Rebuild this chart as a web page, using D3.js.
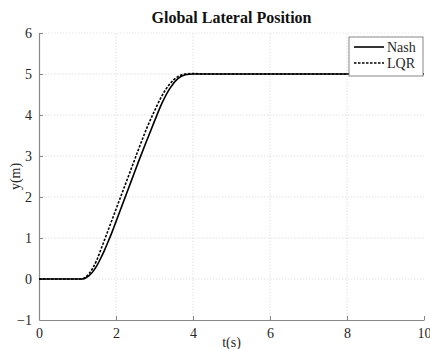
<!DOCTYPE html>
<html><head><meta charset="utf-8">
<script src="https://cdn.jsdelivr.net/npm/d3@7"></script>
<style>body{margin:0;background:#fff}svg{display:block}</style>
</head><body><div id="c"></div>
<script>
const xTicks = [0,2,4,6,8,10];
const yTicks = [-1,0,1,2,3,4,5,6];
const nashT = [0,1.0,1.1,1.2,1.3,1.4,1.5,1.6,1.7,1.8,1.9,2.0,2.2,2.4,2.6,2.8,3.0,3.2,3.4,3.6,3.8,4.0,4.5,10];
const nashY = [0,0,0,0.02,0.08,0.18,0.32,0.5,0.7,0.92,1.15,1.4,1.9,2.4,2.9,3.38,3.85,4.3,4.65,4.88,4.98,5.0,5.0,5.0];
const lqrT = [0,1.0,1.1,1.2,1.3,1.4,1.5,1.6,1.7,1.8,2.0,2.2,2.4,2.6,2.8,3.0,3.2,3.4,3.6,3.8,4.0,4.3,10];
const lqrY = [0,0,0,0.04,0.13,0.27,0.46,0.7,0.95,1.2,1.7,2.2,2.7,3.2,3.68,4.1,4.48,4.76,4.93,5.0,5.01,5.0,5.0];
const series = [
  {name:"Nash", t:nashT, y:nashY, dash:null},
  {name:"LQR", t:lqrT, y:lqrY, dash:"2.5,1.5"}
];

const W=430,H=349;
const m={l:39,r:6,t:33,b:29};
const svg=d3.select("#c").append("svg").attr("width",W).attr("height",H);
const x=d3.scaleLinear().domain([0,10]).range([m.l,W-m.r]);
const y=d3.scaleLinear().domain([-1,6]).range([H-m.b,m.t]);
const font="'Liberation Serif','Times New Roman',serif";

// grid
const g=svg.append("g");
g.selectAll(".gx").data(xTicks.slice(1,-1)).join("line")
  .attr("x1",d=>x(d)).attr("x2",d=>x(d)).attr("y1",y(-1)).attr("y2",y(6))
  .attr("stroke","#e2e2e2").attr("stroke-dasharray","1.5,1.5");
g.selectAll(".gy").data(yTicks.slice(1,-1)).join("line")
  .attr("x1",x(0)).attr("x2",x(10)).attr("y1",d=>y(d)).attr("y2",d=>y(d))
  .attr("stroke","#e2e2e2").attr("stroke-dasharray","1.5,1.5");
g.append("line").attr("x1",x(0)).attr("x2",x(10)).attr("y1",y(6)).attr("y2",y(6))
  .attr("stroke","#e8e8e8").attr("stroke-dasharray","1.5,1.5");

// axes
const fmt=d3.format("d");
const xa=svg.append("g").attr("transform",`translate(0,${y(-1)})`)
  .call(d3.axisBottom(x).tickValues(xTicks).tickFormat(fmt).tickSizeInner(-4).tickSizeOuter(0).tickPadding(8));
const ya=svg.append("g").attr("transform",`translate(${x(0)},0)`)
  .call(d3.axisLeft(y).tickValues(yTicks).tickFormat(fmt).tickSizeInner(-4).tickSizeOuter(0).tickPadding(7));
[xa,ya].forEach(a=>{
  a.select(".domain").attr("stroke","#888").attr("stroke-width",1.2);
  a.selectAll(".tick line").attr("stroke","#888");
  a.selectAll("text").attr("font-family",font).attr("font-size",14).attr("fill","#262626");
});
xa.selectAll(".tick").filter(d=>d===0).select("line").remove();
ya.selectAll(".tick").filter(d=>d===-1).select("line").remove();

// lines
const line=d3.line().x(d=>x(d[0])).y(d=>y(d[1])).curve(d3.curveMonotoneX);
series.forEach(s=>{
  svg.append("path").datum(s.t.map((t,i)=>[t,s.y[i]]))
    .attr("d",line).attr("fill","none").attr("stroke","#000")
    .attr("stroke-width",1.6).attr("stroke-dasharray",s.dash);
});

// title and labels
svg.append("text").attr("x",(x(0)+x(10))/2).attr("y",23).attr("text-anchor","middle")
  .attr("font-family",font).attr("font-size",16).attr("font-weight","bold").attr("fill","#111")
  .text("Global Lateral Position");
svg.append("text").attr("x",(x(0)+x(10))/2).attr("y",H-2).attr("text-anchor","middle")
  .attr("font-family",font).attr("font-size",14).attr("fill","#262626").text("t(s)");
svg.append("text").attr("transform",`translate(20,${(y(-1)+y(6))/2}) rotate(-90)`)
  .attr("text-anchor","middle").attr("font-family",font).attr("font-size",14).attr("fill","#262626").text("y(m)");

// legend
const lg=svg.append("g");
lg.append("rect").attr("x",349).attr("y",37).attr("width",74).attr("height",39)
  .attr("fill","#fff").attr("stroke","#888").attr("stroke-width",1);
series.forEach((s,i)=>{
  const yy=47+i*16;
  lg.append("line").attr("x1",354).attr("x2",384).attr("y1",yy).attr("y2",yy)
    .attr("stroke","#000").attr("stroke-width",1.6).attr("stroke-dasharray",s.dash);
  lg.append("text").attr("x",387).attr("y",yy+4.5).attr("font-family",font).attr("font-size",14)
    .attr("fill","#262626").text(s.name);
});
</script></body></html>
